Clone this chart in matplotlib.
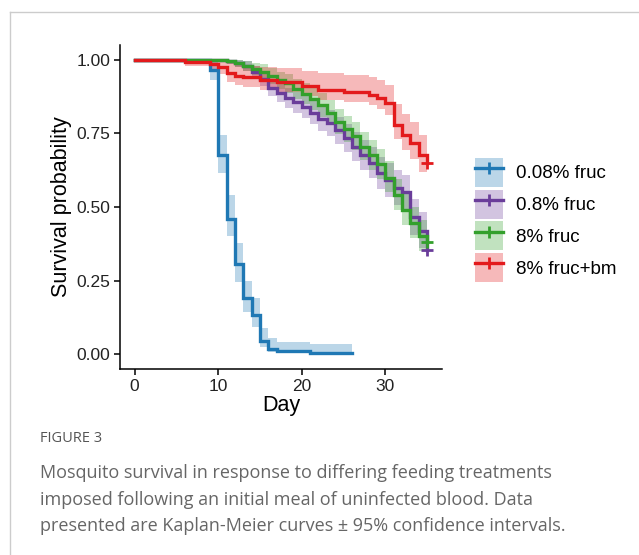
import matplotlib
matplotlib.use("Agg")
import matplotlib.pyplot as plt
from matplotlib.patches import Patch
from matplotlib.lines import Line2D

# Kaplan-Meier steps: time, survival, lower / upper 95% CI
blue_t = [0, 9, 10, 11, 12, 13, 14, 15, 16, 17, 21, 26]
blue_s = [1.0, 0.965, 0.677, 0.46, 0.305, 0.19, 0.133, 0.045, 0.018, 0.01, 0.005, 0.005]
blue_lo = [1.0, 0.93, 0.616, 0.40, 0.245, 0.143, 0.092, 0.024, 0.007, 0.003, 0.0, 0.0]
blue_up = [1.0, 1.0, 0.745, 0.54, 0.378, 0.25, 0.19, 0.088, 0.054, 0.042, 0.034, 0.034]

purple_t = [0, 11, 12, 13, 14, 15, 16, 17, 18, 19, 20, 21, 22, 23, 24, 25, 26, 27, 28, 29, 30, 31, 32, 33, 34, 35]
purple_s = [1.0, 0.995, 0.99, 0.98, 0.96, 0.935, 0.905, 0.888, 0.87, 0.855, 0.84, 0.82, 0.80, 0.785, 0.76,
            0.735, 0.705, 0.675, 0.65, 0.615, 0.59, 0.565, 0.55, 0.465, 0.42, 0.355]
purple_lo = [1.0, 0.985, 0.975, 0.962, 0.938, 0.91, 0.877, 0.857, 0.837, 0.82, 0.803, 0.781, 0.759, 0.742, 0.715,
             0.688, 0.656, 0.624, 0.597, 0.56, 0.534, 0.507, 0.49, 0.405, 0.36, 0.30]
purple_up = [1.0, 1.0, 1.0, 0.995, 0.98, 0.96, 0.934, 0.92, 0.905, 0.892, 0.878, 0.86, 0.842, 0.83, 0.806,
             0.783, 0.755, 0.727, 0.704, 0.671, 0.648, 0.624, 0.61, 0.527, 0.483, 0.42]

green_t = [0, 11, 12, 13, 14, 15, 16, 17, 18, 19, 20, 21, 22, 23, 24, 25, 26, 27, 28, 29, 30, 31, 32, 33, 34, 35]
green_s = [1.0, 0.995, 0.99, 0.98, 0.97, 0.96, 0.945, 0.93, 0.92, 0.90, 0.885, 0.865, 0.845, 0.82, 0.79,
           0.765, 0.74, 0.705, 0.675, 0.645, 0.60, 0.54, 0.49, 0.445, 0.40, 0.38]
green_lo = [1.0, 0.985, 0.975, 0.962, 0.948, 0.935, 0.918, 0.90, 0.888, 0.866, 0.85, 0.828, 0.806, 0.78, 0.748,
            0.722, 0.695, 0.658, 0.627, 0.596, 0.55, 0.49, 0.44, 0.395, 0.35, 0.33]
green_up = [1.0, 1.0, 1.0, 0.995, 0.99, 0.984, 0.972, 0.96, 0.952, 0.936, 0.922, 0.904, 0.886, 0.862, 0.834,
            0.81, 0.787, 0.754, 0.726, 0.698, 0.655, 0.595, 0.545, 0.50, 0.455, 0.435]

red_t = [0, 6, 9, 10, 11, 12, 13, 15, 17, 20, 22, 25, 28, 29, 30, 31, 32, 33, 34, 35]
red_s = [1.0, 0.993, 0.985, 0.975, 0.955, 0.946, 0.94, 0.932, 0.925, 0.912, 0.898, 0.892, 0.881, 0.87,
         0.854, 0.78, 0.745, 0.718, 0.677, 0.65]
red_lo = [1.0, 0.98, 0.965, 0.95, 0.925, 0.913, 0.906, 0.897, 0.89, 0.877, 0.863, 0.858, 0.845, 0.832,
          0.814, 0.73, 0.693, 0.664, 0.62, 0.595]
red_up = [1.0, 1.0, 1.0, 1.0, 0.99, 0.985, 0.98, 0.975, 0.972, 0.962, 0.955, 0.949, 0.94, 0.93,
          0.915, 0.85, 0.817, 0.79, 0.745, 0.72]

labels = ["0.08% fruc", "0.8% fruc", "8% fruc", "8% fruc+bm"]
colors = ["#1F78B4", "#6A3D9A", "#33A02C", "#E31A1C"]
censored = [False, True, True, True]

series = [
    (blue_t, blue_s, blue_lo, blue_up),
    (purple_t, purple_s, purple_lo, purple_up),
    (green_t, green_s, green_lo, green_up),
    (red_t, red_s, red_lo, red_up),
]

plt.rcParams["font.family"] = ["Liberation Sans", "DejaVu Sans"]

fig = plt.figure(figsize=(6.39, 5.55), dpi=100)
ax = fig.add_axes([120 / 639, 1 - 369 / 555, (441.7 - 120) / 639, (369 - 45) / 555])

for (t, s, lo, up), c in zip(series, colors):
    ax.fill_between(t, lo, up, step="post", color=c, alpha=0.3, lw=0)
for (t, s, lo, up), c in zip(series, colors):
    ax.step(t, s, where="post", color=c, lw=2.4, solid_joinstyle="miter")
for (t, s, lo, up), c, cen in zip(series, colors, censored):
    if cen:
        ax.plot(t[-1], s[-1], marker="+", color=c, ms=9, mew=2)

ax.set_xlim(-1.75, 36.75)
ax.set_ylim(-0.05, 1.05)
ax.set_xticks([0, 10, 20, 30])
ax.set_yticks([0, 0.25, 0.5, 0.75, 1.0])
ax.set_yticklabels(["0.00", "0.25", "0.50", "0.75", "1.00"])
for sp in ["top", "right"]:
    ax.spines[sp].set_visible(False)
for sp in ["left", "bottom"]:
    ax.spines[sp].set_linewidth(1.1)
ax.tick_params(length=4, width=1.1, labelsize=12.5, colors="black", labelcolor="#222222", pad=3)
ax.set_xlabel("Day", fontsize=15.5, labelpad=1)
ax.set_ylabel("Survival probability", fontsize=15.5, labelpad=3)

handles = []
for c in colors:
    handles.append((Patch(facecolor=c, alpha=0.3, lw=0),
                    Line2D([], [], color=c, lw=2.4, marker="+", ms=9, mew=2)))
fig.legend(handles, labels, loc="center left", bbox_to_anchor=(475 / 639, 1 - 220 / 555),
           frameon=False, fontsize=13.5, handlelength=1.5, handleheight=2.0,
           labelspacing=0.15, handletextpad=0.7, borderpad=0, borderaxespad=0)

# page frame and caption
fig.add_artist(Line2D([10 / 639, 1], [1 - 12 / 555, 1 - 12 / 555], color="#cccccc", lw=1))
fig.add_artist(Line2D([10 / 639, 10 / 639], [0, 1 - 12 / 555], color="#cccccc", lw=1))

fig.text(40 / 639, 1 - 438 / 555, "FIGURE 3", fontsize=10.5, color="#555555",
         family="Open Sans", va="center", ha="left")
caption = ("Mosquito survival in response to differing feeding treatments\n"
           "imposed following an initial meal of uninfected blood. Data\n"
           "presented are Kaplan-Meier curves \u00b1 95% confidence intervals.")
fig.text(40 / 639, 1 - 464 / 555, caption, fontsize=13, color="#666666",
         family="Open Sans", va="top", ha="left", linespacing=1.62)

fig.savefig("out.png", dpi=100)
